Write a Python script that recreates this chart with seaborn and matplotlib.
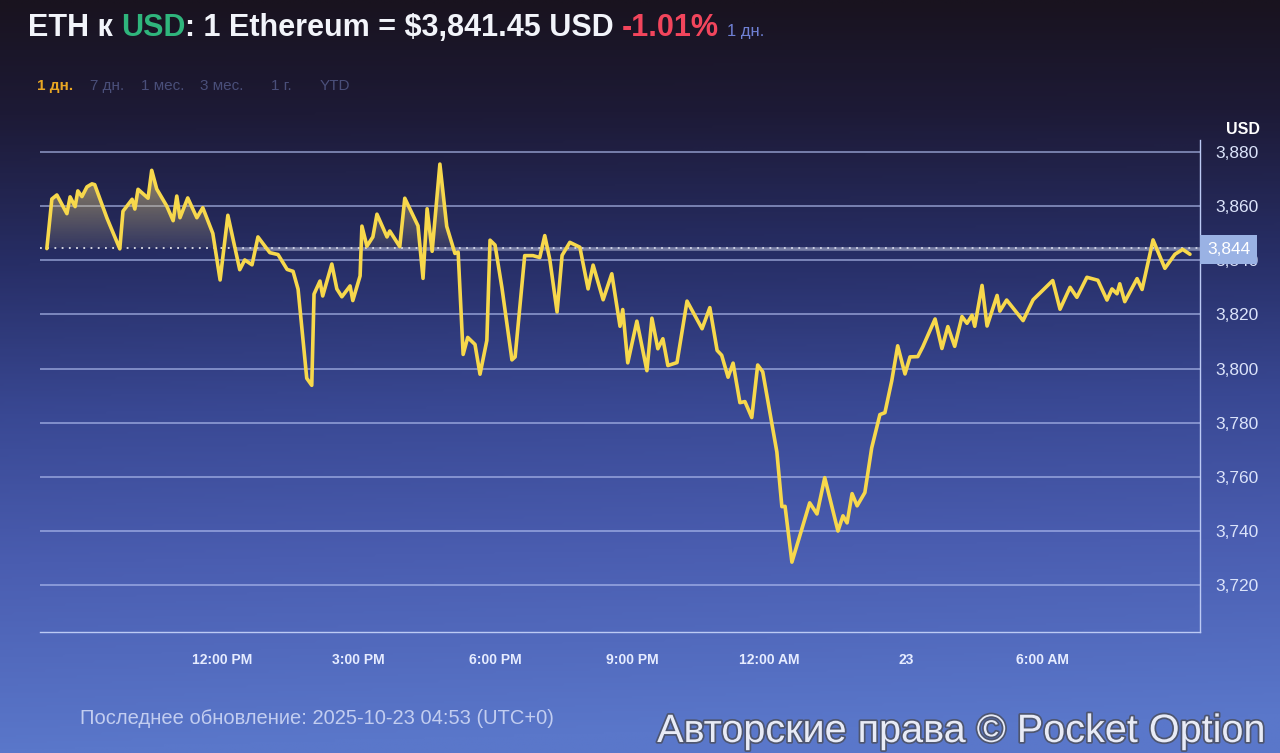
import numpy as np
import matplotlib
matplotlib.use("Agg")
import matplotlib.pyplot as plt
import matplotlib.patheffects as pe
import matplotlib.transforms as mtransforms
from matplotlib.colors import LinearSegmentedColormap, to_rgb
from matplotlib.path import Path
import seaborn as sns

# Часы относительно 12:00 PM (22 окт.), цена ETH в USD
hours = [-3.84, -3.73, -3.62, -3.40, -3.33, -3.22, -3.16, -3.07, -2.96, -2.85,
         -2.79, -2.52, -2.24, -2.17, -1.97, -1.91, -1.84, -1.62, -1.54, -1.43,
         -1.21, -1.07, -0.99, -0.92, -0.75, -0.55, -0.42, -0.20, -0.04, 0.13,
         0.39, 0.50, 0.66, 0.79, 1.05, 1.23, 1.43, 1.56, 1.67, 1.86,
         1.97, 2.02, 2.15, 2.21, 2.41, 2.52, 2.63, 2.81, 2.87, 3.03,
         3.07, 3.18, 3.31, 3.40, 3.62, 3.68, 3.90, 4.01, 4.30, 4.41,
         4.50, 4.61, 4.78, 4.93, 5.11, 5.18, 5.29, 5.39, 5.55, 5.66,
         5.81, 5.88, 5.99, 6.14, 6.36, 6.43, 6.64, 6.82, 6.97, 7.08,
         7.19, 7.35, 7.46, 7.63, 7.85, 8.03, 8.14, 8.36, 8.55, 8.73,
         8.79, 8.90, 9.10, 9.32, 9.43, 9.56, 9.67, 9.78, 9.98, 10.20,
         10.53, 10.70, 10.86, 10.96, 11.10, 11.21, 11.36, 11.47, 11.62, 11.75,
         11.86, 12.17, 12.28, 12.35, 12.50, 12.89, 13.05, 13.22, 13.51, 13.62,
         13.71, 13.82, 13.93, 14.10, 14.25, 14.43, 14.54, 14.69, 14.82, 14.98,
         15.09, 15.26, 15.37, 15.64, 15.79, 15.92, 16.07, 16.23, 16.34, 16.45,
         16.51, 16.67, 16.78, 17.00, 17.06, 17.21, 17.57, 17.79, 18.22, 18.38,
         18.60, 18.75, 18.97, 19.21, 19.41, 19.52, 19.63, 19.69, 19.80, 20.07,
         20.18, 20.42, 20.68, 20.90, 21.07, 21.23]
price = [3844.3, 3862.6, 3864.1, 3857.2, 3863.4, 3859.8, 3865.6, 3863.5, 3867.1, 3868.2,
         3867.9, 3855.5, 3844.2, 3858.1, 3862.5, 3858.9, 3866.2, 3862.9, 3873.2, 3866.3,
         3860.0, 3854.6, 3863.7, 3855.7, 3863.0, 3855.7, 3859.4, 3849.9, 3832.7, 3856.6,
         3836.5, 3840.1, 3838.3, 3848.6, 3842.8, 3842.1, 3836.6, 3835.9, 3829.3, 3796.4,
         3793.8, 3827.5, 3832.3, 3826.8, 3838.6, 3829.4, 3826.5, 3830.5, 3825.1, 3834.2,
         3852.6, 3845.2, 3848.6, 3857.0, 3848.6, 3850.8, 3845.0, 3862.9, 3852.7, 3833.3,
         3859.0, 3843.3, 3875.5, 3852.5, 3842.5, 3843.0, 3805.2, 3811.5, 3808.9, 3797.9,
         3810.4, 3847.4, 3845.6, 3829.9, 3803.2, 3804.3, 3841.7, 3841.7, 3841.0, 3849.1,
         3840.3, 3820.9, 3841.8, 3846.6, 3844.8, 3829.4, 3838.2, 3825.4, 3835.0, 3815.6,
         3821.8, 3802.1, 3817.5, 3799.2, 3818.6, 3807.3, 3811.0, 3801.1, 3802.2, 3824.9,
         3814.7, 3822.5, 3806.7, 3804.9, 3796.8, 3802.0, 3787.4, 3787.8, 3781.9, 3801.3,
         3798.8, 3769.2, 3749.0, 3749.1, 3728.5, 3750.4, 3746.3, 3759.7, 3740.0, 3745.6,
         3743.0, 3753.8, 3749.3, 3754.2, 3770.7, 3783.0, 3783.7, 3795.5, 3808.4, 3798.0,
         3804.3, 3804.4, 3808.0, 3818.3, 3807.4, 3815.5, 3808.2, 3819.2, 3816.7, 3819.7,
         3815.6, 3830.7, 3815.7, 3827.0, 3821.2, 3825.3, 3817.7, 3825.4, 3832.5, 3821.9,
         3830.0, 3826.3, 3833.7, 3832.6, 3825.3, 3829.4, 3827.6, 3831.3, 3824.7, 3833.2,
         3829.2, 3847.5, 3837.0, 3842.2, 3844.0, 3842.2]

prev_close = 3844.4
last_price = 3844
y_ticks = [3720, 3740, 3760, 3780, 3800, 3820, 3840, 3860, 3880]
x_ticks = [0, 3, 6, 9, 12, 15, 18]
x_labels = ["12:00 PM", "3:00 PM", "6:00 PM", "9:00 PM", "12:00 AM", "23", "6:00 AM"]
periods = ["1 дн.", "7 дн.", "1 мес.", "3 мес.", "1 г.", "YTD"]
period_x = [37, 90, 141, 200, 271, 320]

sns.set_theme(style="white")
plt.rcParams['font.family'] = ['Liberation Sans', 'DejaVu Sans']

W, H = 1280, 753
fig = plt.figure(figsize=(W / 100, H / 100), dpi=100)

# фон: тёмный сверху, синий снизу
bg = fig.add_axes([0, 0, 1, 1], zorder=-10)
bg_cmap = LinearSegmentedColormap.from_list("bg", [
    (0.0, "#19131f"), (0.15, "#1d1a36"), (0.35, "#272e66"),
    (0.55, "#394893"), (0.75, "#4a5db0"), (1.0, "#5a77ca")])
gy = np.linspace(0, 1, 300).reshape(-1, 1)
gx = np.linspace(0, 1, 300).reshape(1, -1)
grad = np.clip(gy + 0.05 * gx * gy, 0, 1)
bg.imshow(grad, aspect="auto", cmap=bg_cmap, extent=[0, 1, 0, 1], origin="upper")
bg.axis("off")

ax = fig.add_axes([40 / W, 1 - 632 / H, 1160 / W, 492 / H])
ax.patch.set_alpha(0)

sns.lineplot(x=hours, y=price, color="#f7d84c", linewidth=2.6, ax=ax,
             estimator=None, sort=False, zorder=6)

# градиентная заливка над линией предыдущего закрытия
h = np.array(hours)
p = np.array(price)
poly = ax.fill_between(h, prev_close, p, where=p >= prev_close,
                       interpolate=True, color="none", linewidth=0)
clip = Path.make_compound_path(*poly.get_paths())
fill_img = np.zeros((100, 1, 4))
fill_img[..., :3] = to_rgb("#d6c27c")
fill_img[..., 3] = np.linspace(0.7, 0.08, 100).reshape(-1, 1)
im = ax.imshow(fill_img, extent=[h.min(), h.max(), prev_close, 3876],
               aspect="auto", origin="upper", zorder=4)
im.set_clip_path(clip, transform=ax.transData)

ax.axhline(prev_close, color="white", ls=(0, (1, 3)), lw=1.3, alpha=0.85, zorder=5)
ax.axhline(last_price, xmin=0.17, color="#c9cfe8", lw=2.6, alpha=0.5, zorder=5)

ax.set_xlim(-3.99, 21.45)
ax.set_ylim(3702.7, 3884.4)

ax.grid(axis="y", color="#b4c1f2", lw=1.1, alpha=0.75)
ax.set_axisbelow(True)

ax.yaxis.tick_right()
ax.set_yticks(y_ticks)
ax.set_yticklabels([f"{v:,}" for v in y_ticks])
ax.tick_params(axis="y", length=0, pad=11, labelsize=12.5, labelcolor="#dbe3fa")

ax.set_xticks(x_ticks)
ax.set_xticklabels(x_labels)
ax.tick_params(axis="x", direction="in", length=5, width=1, color="#c4d0f6",
               pad=15, labelsize=10, labelcolor="#e6ecff")
for lab in ax.get_xticklabels():
    lab.set_fontweight("bold")

for side in ["left", "top"]:
    ax.spines[side].set_visible(False)
for side in ["bottom", "right"]:
    ax.spines[side].set_color("#bccaf4")
    ax.spines[side].set_linewidth(1.0)
ax.set_xlabel("")
ax.set_ylabel("")

# плашка текущей цены (закрывает подпись 3,840, как в оригинале)
trans = mtransforms.blended_transform_factory(ax.transAxes, ax.transData)
ax.text(1.006, last_price, f"{last_price:,}", transform=trans, ha="left", va="center",
        color="white", fontsize=12.5, zorder=10, clip_on=False,
        bbox=dict(boxstyle="square,pad=0.4", fc="#9ab2e4", ec="none"))

fig.text(1243 / W, 1 - 130 / H, "USD", ha="center", va="center",
         fontsize=11.5, fontweight="bold", color="white")

# заголовок разными цветами
renderer = fig.canvas.get_renderer()
segments = [("ETH к", "#f2f4fa", 22, "bold", 8),
            ("USD", "#2fb57c", 22, "bold", 0),
            (": 1 Ethereum = $3,841.45 USD", "#f2f4fa", 22, "bold", 8),
            ("-1.01%", "#f2455c", 22, "bold", 8),
            ("1 дн.", "#6f80d4", 12, "normal", 0)]
x_px = 28
for text, color, size, weight, gap in segments:
    t = fig.text(x_px / W, 1 - 36 / H, text, ha="left", va="baseline",
                 fontsize=size, fontweight=weight, color=color)
    bb = t.get_window_extent(renderer)
    x_px = bb.x1 + gap

for i, (lab, xp) in enumerate(zip(periods, period_x)):
    fig.text(xp / W, 1 - 90 / H, lab, ha="left", va="baseline", fontsize=11,
             fontweight="bold" if i == 0 else "normal",
             color="#e8a623" if i == 0 else "#4a4f7a")

fig.text(80 / W, 1 - 724 / H, "Последнее обновление: 2025-10-23 04:53 (UTC+0)",
         ha="left", va="baseline", fontsize=14.5, color="#c2cdf0")

wm = fig.text(1265 / W, 1 - 742 / H, "Авторские права © Pocket Option",
              ha="right", va="baseline", fontsize=28.5, color="#e8ebf6")
wm.set_path_effects([pe.withStroke(linewidth=2.5, foreground="#4e5670")])

fig.savefig("out.png", dpi=100)
